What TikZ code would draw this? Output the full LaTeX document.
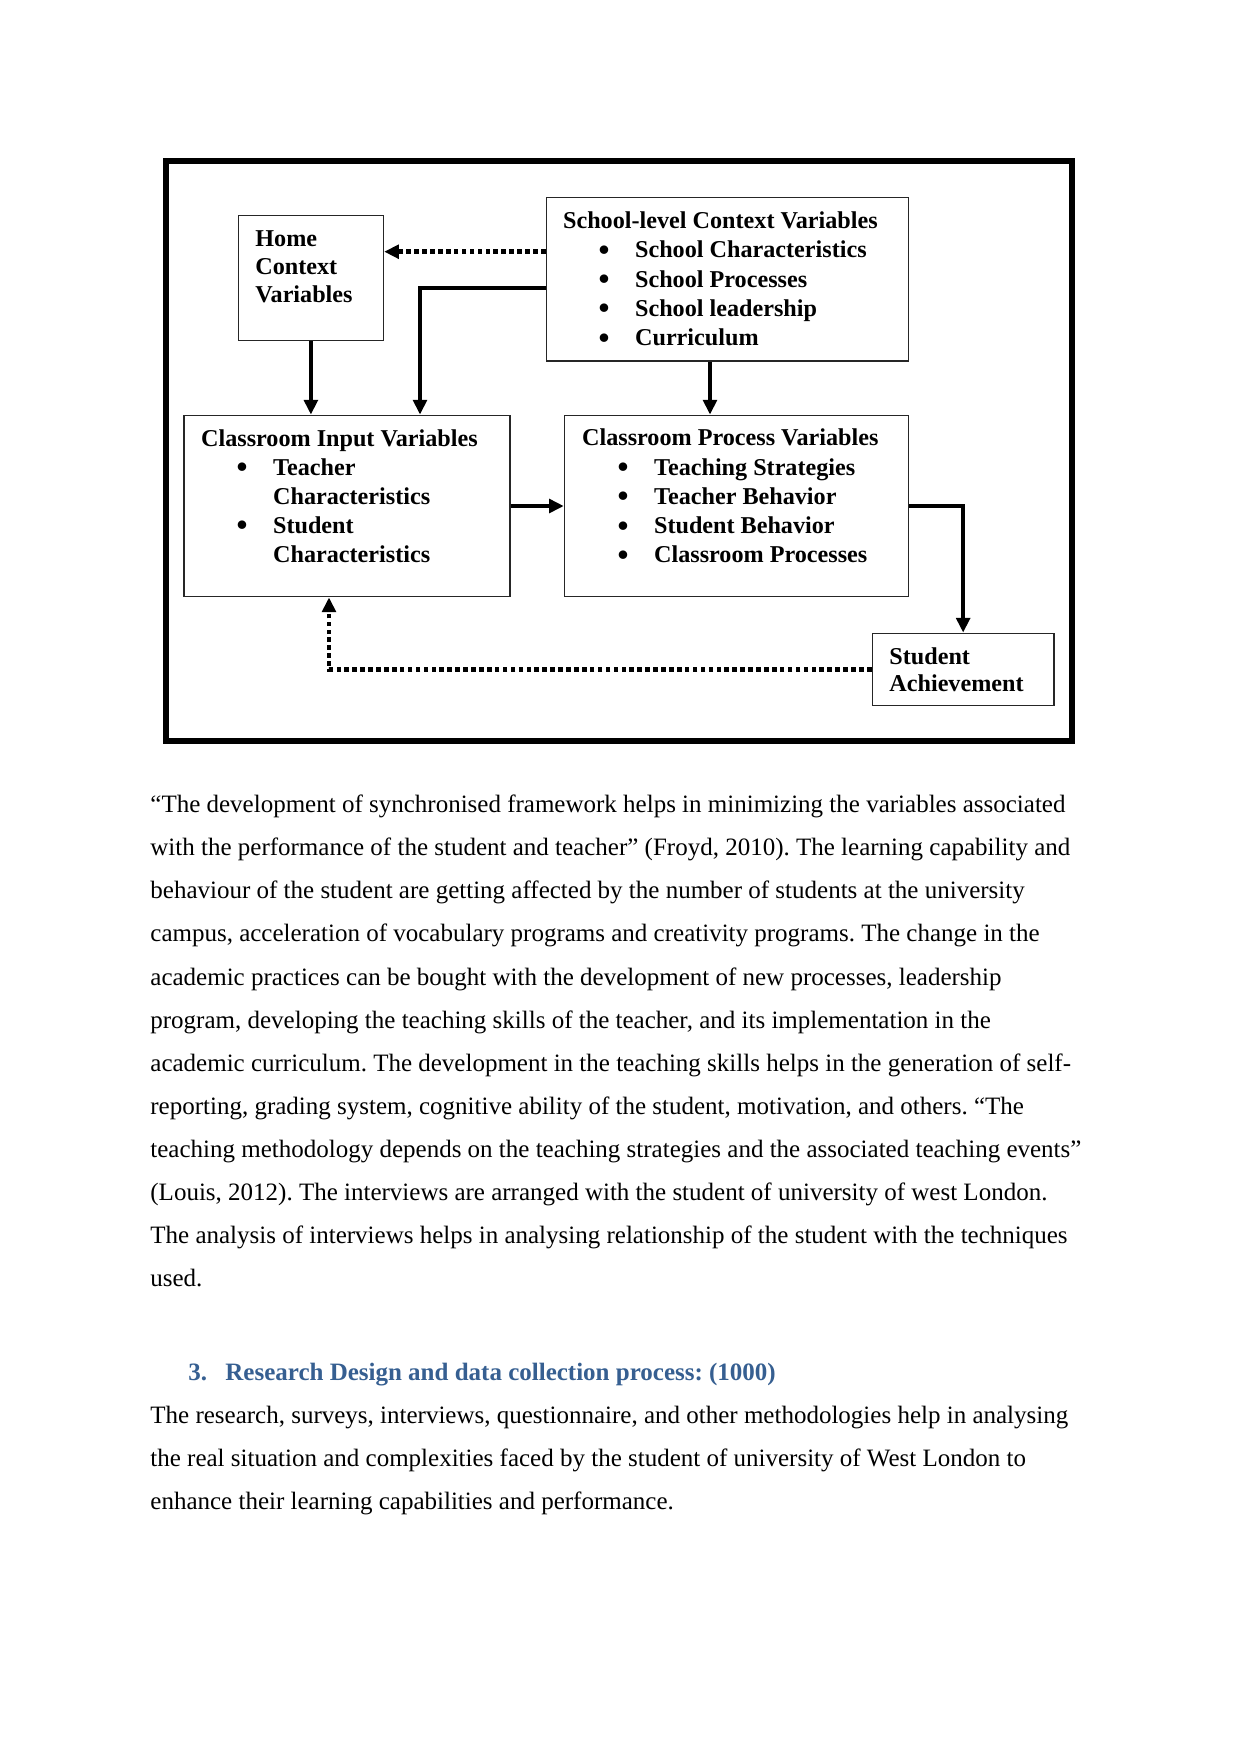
\documentclass[tikz,border=0pt]{standalone}
\usepackage{fontspec}
\setmainfont{Liberation Serif}
\usetikzlibrary{arrows.meta,fit}
\definecolor{headblue}{HTML}{365F91}
\frenchspacing
\newcommand\bitem{\makebox[34.56pt][l]{\hspace{19.7pt}\makebox[0pt][c]{\raisebox{-1.2pt}{\fontsize{15}{15}\selectfont •}}}}
\newcommand\bcont{\hspace*{34.56pt}}
\begin{document}
\begin{tikzpicture}[x=0.48pt,y=-0.48pt,
  box/.style={draw=black!85, line width=0.7pt, inner sep=0pt},
  lbl/.style={anchor=base west, inner sep=0pt},
  solidarrow/.style={line width=2.1pt, -{Triangle[length=7pt,width=6.5pt]}},
  dotarrow/.style={line width=2.2pt, dash pattern=on 2.2pt off 1.6pt, -{Triangle[length=7pt,width=6.5pt]}},
  body/.style={anchor=base west, inner sep=0pt}]
\useasboundingbox (0,0) rectangle (1241,1754);
% outer frame
\draw[line width=2.9pt] (166,161.3) rectangle (1071.7,741.3);
% boxes
\node[box, fit={(238.3,215.7) (383.5,340.7)}] (home) {};
\node[box, fit={(546.3,197.5) (908.3,361)}] (school) {};
\node[box, fit={(184,415.3) (510,596.7)}] (input) {};
\node[box, fit={(564.5,415.3) (908.3,596.7)}] (process) {};
\node[box, fit={(872.3,633.3) (1054,705.7)}] (student) {};
% helper coordinates
\coordinate (yA) at (0,251.7);
\coordinate (yB) at (0,288.3);
\coordinate (xC) at (420,0);
\coordinate (xD) at (710,0);
\coordinate (xG) at (329,0);
% connectors
\draw[dotarrow] (school.west |- yA) -- (home.east |- yA);
\draw[solidarrow] (school.west |- yB) -| (xC |- input.north);
\draw[solidarrow] (home.south) -- (home.south |- input.north);
\draw[solidarrow] (xD |- school.south) -- (xD |- process.north);
\draw[solidarrow] (input.east) -- (process.west);
\draw[solidarrow] (process.east) -| (student.north);
\draw[dotarrow] (student.west) -| (xG |- input.south);
% box texts
\node[lbl] (hometxt) at (255,246.7) {\fontsize{11.6}{13.44}\selectfont\bfseries
  \begin{tabular}[t]{@{}l@{}}Home\\ Context\\ Variables\end{tabular}};
\node[lbl] (schooltxt) at (562.7,228.3) {\fontsize{11.6}{14.1}\selectfont\bfseries
  \begin{tabular}[t]{@{}l@{}}School-level Context Variables\\
  \bitem School Characteristics\\
  \bitem School Processes\\
  \bitem School leadership\\
  \bitem Curriculum\end{tabular}};
\node[lbl] (inputtxt) at (200.7,446) {\fontsize{11.6}{13.95}\selectfont\bfseries
  \begin{tabular}[t]{@{}l@{}}Classroom Input Variables\\
  \bitem Teacher\\
  \bcont Characteristics\\
  \bitem Student\\
  \bcont Characteristics\end{tabular}};
\node[lbl] (processtxt) at (581.7,445.7) {\fontsize{11.6}{14.06}\selectfont\bfseries
  \begin{tabular}[t]{@{}l@{}}Classroom Process Variables\\
  \bitem Teaching Strategies\\
  \bitem Teacher Behavior\\
  \bitem Student Behavior\\
  \bitem Classroom Processes\end{tabular}};
\node[lbl] (studenttxt) at (889,664.3) {\fontsize{11.6}{13.15}\selectfont\bfseries
  \begin{tabular}[t]{@{}l@{}}Student\\ Achievement\end{tabular}};
% body text
\node[body] (para1) at (150,812.5) {\fontsize{12}{20.7}\selectfont
  \begin{tabular}[t]{@{}l@{}}
  “The development of synchronised framework helps in minimizing the variables associated\\
  with the performance of the student and teacher” (Froyd, 2010). The learning capability and\\
  behaviour of the student are getting affected by the number of students at the university\\
  campus, acceleration of vocabulary programs and creativity programs. The change in the\\
  academic practices can be bought with the development of new processes, leadership\\
  program, developing the teaching skills of the teacher, and its implementation in the\\
  academic curriculum. The development in the teaching skills helps in the generation of self-\\
  reporting, grading system, cognitive ability of the student, motivation, and others. “The\\
  teaching methodology depends on the teaching strategies and the associated teaching events”\\
  (Louis, 2012). The interviews are arranged with the student of university of west London.\\
  The analysis of interviews helps in analysing relationship of the student with the techniques\\
  used.
  \end{tabular}};
\node[body, text=headblue, font=\fontsize{12}{14}\selectfont\bfseries] (headnum) at (188,1380) {3.};
\node[body, text=headblue, font=\fontsize{12}{14}\selectfont\bfseries] (headtxt) at (225,1380) {Research Design and data collection process: (1000)};
\node[body] (para2) at (150,1423) {\fontsize{12}{20.7}\selectfont
  \begin{tabular}[t]{@{}l@{}}
  The research, surveys, interviews, questionnaire, and other methodologies help in analysing\\
  the real situation and complexities faced by the student of university of West London to\\
  enhance their learning capabilities and performance.
  \end{tabular}};
\end{tikzpicture}
\end{document}
